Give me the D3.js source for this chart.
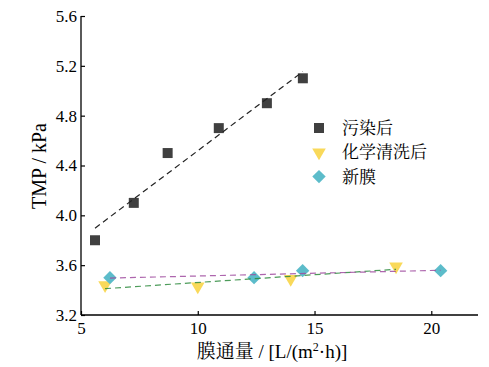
<!DOCTYPE html>
<html><head><meta charset="utf-8">
<script src="https://cdn.jsdelivr.net/npm/d3@7"></script>
<style>body{margin:0;background:#fff}svg{display:block}</style>
</head><body>
<svg id="c" width="489" height="367"></svg>
<script>
const seriesNames = ["污染后", "化学清洗后", "新膜"];
const foulX = [5.6, 7.26, 8.71, 10.9, 12.96, 14.5];
const foulY = [3.8, 4.1, 4.5, 4.7, 4.9, 5.1];
const cleanX = [6.03, 10.0, 13.98, 18.49];
const cleanY = [3.44, 3.43, 3.49, 3.59];
const newX = [6.24, 12.41, 14.49, 20.4];
const newY = [3.50, 3.50, 3.556, 3.556];
const xTicks = [5, 10, 15, 20];
const yTicks = [3.2, 3.6, 4.0, 4.4, 4.8, 5.2, 5.6];

const svg = d3.select("#c");
const x = d3.scaleLinear().domain([5, 22]).range([81, 478]);
const y = d3.scaleLinear().domain([3.2, 5.6]).range([315, 16]);

const serif = "'Liberation Serif','Times New Roman',serif";
const cjk = "'Liberation Serif','Noto Serif CJK SC','Noto Sans CJK SC',serif";

// axes
const gx = svg.append("g").attr("transform", "translate(0,315)")
  .call(d3.axisBottom(x).tickValues(xTicks).tickSizeInner(-4).tickSizeOuter(0).tickPadding(7).tickFormat(d3.format("d")));
const gy = svg.append("g").attr("transform", "translate(81,0)")
  .call(d3.axisLeft(y).tickValues(yTicks).tickSizeInner(-4).tickSizeOuter(0).tickPadding(9).tickFormat(d3.format(".1f")));
[gx, gy].forEach(g => {
  g.select(".domain").attr("stroke", "#000").attr("stroke-width", 1.3);
  g.selectAll(".tick line").attr("stroke", "#000").attr("stroke-width", 1.2);
  g.selectAll(".tick text").attr("font-family", serif).attr("font-size", 17).attr("fill", "#000");
});
gx.select(".domain").attr("d", "M81,0H478");
gy.select(".domain").attr("d", "M0,16V315");
gy.selectAll(".tick text").attr("dx", "0.3em");

// labels
svg.append("text").attr("x", 272).attr("y", 358).attr("text-anchor", "middle")
  .attr("font-family", cjk).attr("font-size", 19).attr("fill", "#000")
  .html('膜通量 / [L/(m<tspan dy="-7" font-size="12">2</tspan><tspan dy="7">·h)]</tspan>');
svg.append("text").attr("transform", "translate(46,166) rotate(-90)").attr("text-anchor", "middle")
  .attr("font-family", serif).attr("font-size", 20).attr("fill", "#000").text("TMP / kPa");

const colors = ["#404040", "#f9d95a", "#5cbcca"];
const lineColors = ["#222", "#2e8b3e", "#a04ca0"];
const sets = [[foulX, foulY], [cleanX, cleanY], [newX, newY]];
const syms = [d3.symbolSquare, d3.symbolTriangle, d3.symbolSquare];
const sizes = [100, 80, 90];
const rot = [0, 180, 45];

sets.forEach(([xs, ys], i) => {
  const pts = xs.map((v, j) => [v, ys[j]]);
  svg.append("g").selectAll("path").data(pts).join("path")
    .attr("d", d3.symbol(syms[i], sizes[i]))
    .attr("transform", d => `translate(${x(d[0])},${y(d[1])}) rotate(${rot[i]})`)
    .attr("fill", colors[i]);
});

sets.forEach(([xs, ys], i) => {
  const mx = d3.mean(xs), my = d3.mean(ys);
  const sxy = d3.sum(xs, (v, j) => (v - mx) * (ys[j] - my));
  const sxx = d3.sum(xs, v => (v - mx) ** 2);
  const b = sxy / sxx, a = my - b * mx;
  const x0 = d3.min(xs), x1 = d3.max(xs);
  svg.append("line")
    .attr("x1", x(x0)).attr("y1", y(a + b * x0))
    .attr("x2", x(x1)).attr("y2", y(a + b * x1))
    .attr("stroke", lineColors[i]).attr("stroke-width", 1.2)
    .attr("stroke-dasharray", "6,4").attr("opacity", i === 0 ? 1 : 0.85);
});

// legend
const lg = svg.append("g");
seriesNames.forEach((n, i) => {
  const yy = 128 + i * 24.3;
  lg.append("path").attr("d", d3.symbol(syms[i], sizes[i]))
    .attr("transform", `translate(319,${yy}) rotate(${rot[i]})`).attr("fill", colors[i]);
  lg.append("text").attr("x", 342).attr("y", yy).attr("dy", "0.36em")
    .attr("font-family", cjk).attr("font-size", 17).attr("fill", "#000").text(n);
});
</script>
</body></html>
